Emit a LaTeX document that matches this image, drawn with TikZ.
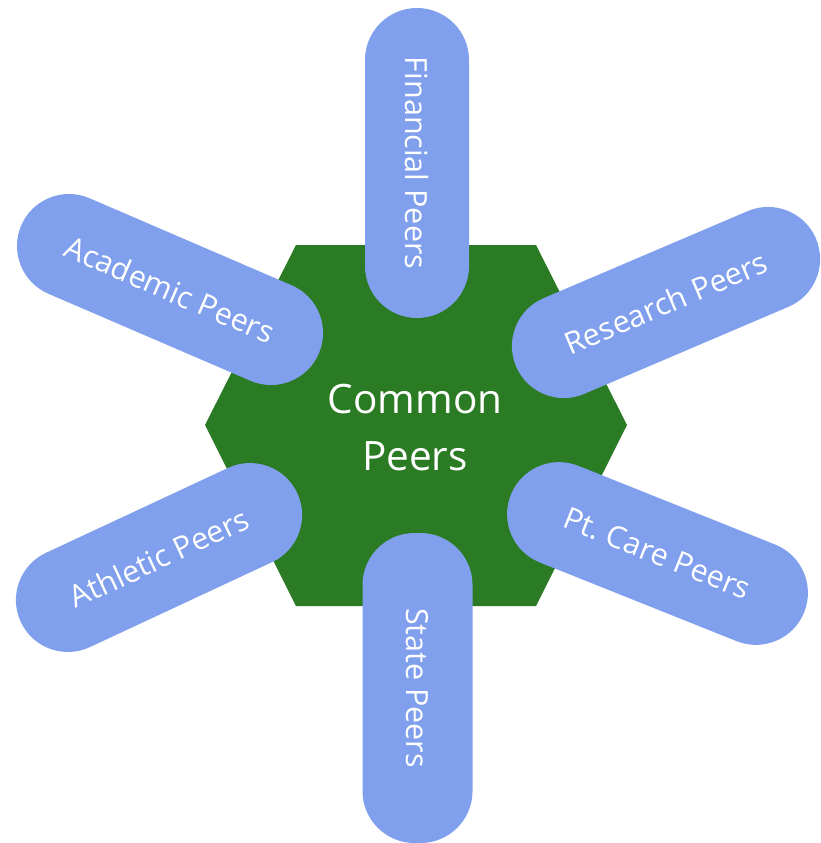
\documentclass[tikz,border=0pt]{standalone}
\usepackage{fontspec}
\setmainfont{Open Sans}
\frenchspacing
\definecolor{hexgreen}{RGB}{42,123,36}
\definecolor{pillblue}{RGB}{128,159,236}
\begin{document}
\begin{tikzpicture}[x=1pt,y=-1pt,
  pill/.style={draw=none, fill=pillblue, rectangle, rounded corners=52pt,
    minimum height=104pt, inner sep=0pt, text=white,
    font=\fontsize{30.5}{36}\selectfont}]
\useasboundingbox (0,0) rectangle (820,843);
\fill[hexgreen] (296,245) -- (536,245) -- (627,425) -- (536,606) -- (296,606) -- (205,425) -- cycle;
\node[text=white, align=center, font=\fontsize{40.5}{57}\selectfont] (common) at (415,428) {Common\\Peers};
\node[pill, minimum width=310pt, rotate=-90] (fin) at (417,163) {Financial Peers};
\node[pill, minimum width=310pt, minimum height=110pt, rotate=-90] (state) at (417.5,688) {State Peers};
\node[pill, minimum width=324pt, rotate=-23.3] (acad) at (170,289.5) {Academic Peers};
\node[pill, minimum width=326pt, rotate=23.1] (res) at (666,302.5) {Research Peers};
\node[pill, minimum width=305pt, rotate=25] (ath) at (159,557.5) {Athletic Peers};
\node[pill, minimum width=316pt, rotate=-21.8] (pt) at (657.5,553.5) {Pt. Care Peers};
\end{tikzpicture}
\end{document}
